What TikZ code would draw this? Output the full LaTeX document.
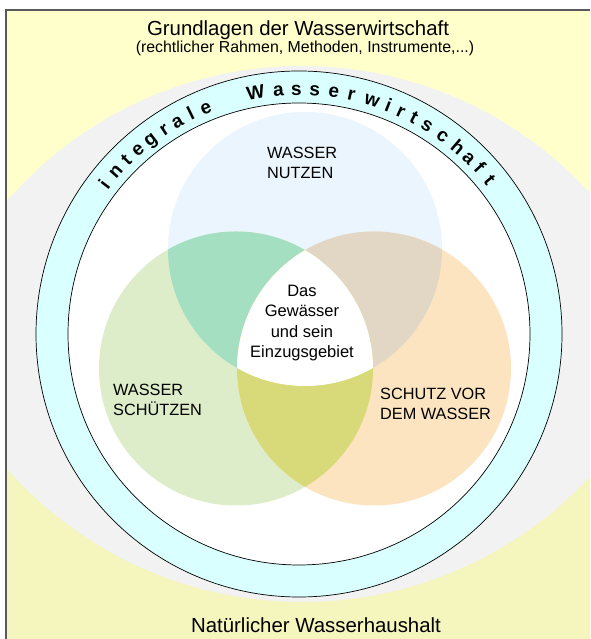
\documentclass[tikz,border=0pt]{standalone}
\usepackage{fontspec}
\setmainfont{Liberation Sans}
\usetikzlibrary{positioning}

\definecolor{topyellow}{HTML}{FFFFCC}
\definecolor{lowyellow}{HTML}{F5F5BE}
\definecolor{greyband}{HTML}{F2F2F2}
\definecolor{ringcyan}{HTML}{D9FFFF}
\definecolor{nutzenblue}{HTML}{EBF5FD}
\definecolor{schuetzengreen}{HTML}{DDEDC9}
\definecolor{schutzorange}{HTML}{FDE4C0}
\definecolor{teal}{HTML}{A3DFC0}
\definecolor{beige}{HTML}{E2D7C5}
\definecolor{olive}{HTML}{D8DA7A}

\begin{document}
\begin{tikzpicture}[x=1pt, y=1pt,
                    headline/.style={font=\fontsize{20.4}{24}\selectfont, inner sep=0pt, anchor=base},
                    subline/.style={font=\fontsize{15.9}{19}\selectfont, inner sep=0pt, anchor=base},
                    fieldlabel/.style={font=\fontsize{16.3}{20}\selectfont, align=left, inner sep=0pt, anchor=north west},
                    centerlabel/.style={font=\fontsize{16.5}{20.3}\selectfont, align=center, inner sep=0pt, anchor=north},
                    ringletter/.style={font=\fontsize{19}{19}\selectfont\bfseries, inner sep=0pt, anchor=base}
                ]
    \useasboundingbox (0,0) rectangle (590,639);
    \coordinate (ring) at (299,305);
    \coordinate (nutzen) at (305,390);
    \coordinate (schuetzen) at (236,270.5);
    \coordinate (schutz) at (374,270.5);

    % background bands
    \begin{scope}
        \clip (6,0) rectangle (590,629);
        \fill[greyband] (6,0) rectangle (590,629);
        \fill[topyellow, even odd rule] (-100,-300) rectangle (700,700) (302,183) circle (390);
        \fill[lowyellow, even odd rule] (-100,-300) rectangle (700,900) (302,431) circle (394);
    \end{scope}
    \draw[black!65, line width=1.5pt] (590,629) -- (6,629) -- (6,0);

    % ring
    \draw[fill=ringcyan, line width=0.7pt] (ring) circle (263);
    \draw[fill=white, line width=0.7pt] (ring) circle (231);

    % the three fields
    \fill[nutzenblue] (nutzen) circle (137);
    \fill[schuetzengreen] (schuetzen) circle (137);
    \fill[schutzorange] (schutz) circle (137);
    \begin{scope}
        \clip (nutzen) circle (137);
        \fill[teal] (schuetzen) circle (137);
        \fill[beige] (schutz) circle (137);
    \end{scope}
    \begin{scope}
        \clip (schuetzen) circle (137);
        \fill[olive] (schutz) circle (137);
        \clip (nutzen) circle (137);
        \fill[white] (schutz) circle (137);
    \end{scope}

    % texts
    \node[headline] (title) at (298,603) {Grundlagen der Wasserwirtschaft};
    \node[subline] (subtitle) at (305,586) {(rechtlicher Rahmen, Methoden, Instrumente,...)};
    \node[headline] (base) at (316,6) {Natürlicher Wasserhaushalt};

    \node[fieldlabel] (nutzentext) at (267,492) {WASSER\\NUTZEN};
    \node[fieldlabel] (schuetzentext) at (113,255) {WASSER\\SCHÜTZEN};
    \node[fieldlabel] (schutztext) at (380,251) {SCHUTZ VOR\\DEM WASSER};
    \node[centerlabel] (gewaesser) at (302,354) {Das\\Gewässer\\und sein\\Einzugsgebiet};

    % integrale Wasserwirtschaft
    \foreach \ch/\ang in {i/142.5, n/138.5, t/134.8, e/131.2, g/127.4, r/123.4, a/119.8, l/116.2, e/112.4,
                          W/100.2, a/94.8, s/90.6, s/86.3, e/81.8, r/77.6, w/72.6, i/68.6, r/65.4,
                          t/62, s/58.4, c/54, h/49.6, a/46, f/42.6, t/39}
        \node[ringletter, rotate=\ang-90] at ([shift={(\ang:239)}]ring) {\ch};
\end{tikzpicture}
\end{document}
